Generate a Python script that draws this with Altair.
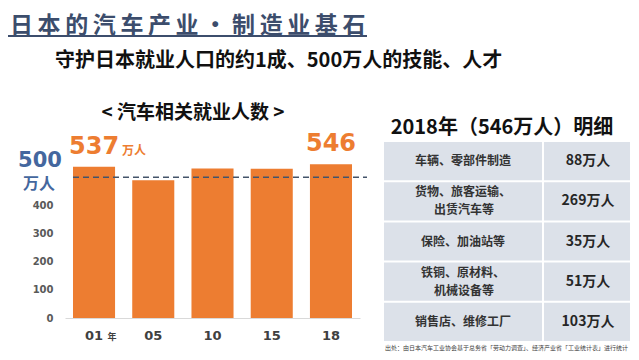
import altair as alt
import pandas as pd

# ---------------- data ----------------
years = ["01", "05", "10", "15", "18"]
employment = [537, 489, 531, 530, 546]  # 万人

table_categories = [
    "车辆、零部件制造",
    "货物、旅客运输、\n出赁汽车等",
    "保险、加油站等",
    "铁铜、原材料、\n机械设备等",
    "销售店、维修工厂",
]
table_values = [88, 269, 35, 51, 103]

main_title = "日本的汽车产业 · 制造业基石"
subtitle = "守护日本就业人口的约1成、500万人的技能、人才"
chart_title = "< 汽车相关就业人数 >"
table_title = "2018年（546万人）明细"
footnote = "出处：由日本汽车工业协会基于总务省「劳动力调查」、经济产业省「工业统计表」进行统计"
reference_level = 500

# ---------------- style ----------------
ORANGE = "#ED7D31"
BLUE = "#44679E"
TITLE_C = "#3C4D6C"
DASH_C = "#44546A"
CELL = "#DCE1E9"
CJK = "Noto Sans CJK SC"
NUM = "DejaVu Sans"

PLOT_X0, PLOT_Y0 = 65, 149  # page position of plot origin


def px(x):
    return x - PLOT_X0


def py(y):
    return y - PLOT_Y0


def spaced(s):
    # letter spacing: a thin space between neighbouring CJK characters
    out = ""
    for i, ch in enumerate(s):
        out += ch
        if i + 1 < len(s) and ch not in " ·" and s[i + 1] not in " ·":
            out += "\u2009"
    return out


df = pd.DataFrame({"year": years, "value": employment})
one = pd.DataFrame({"a": [0]})

x_enc = alt.X(
    "year:N",
    sort=years,
    scale=alt.Scale(paddingInner=0.29, paddingOuter=0.135),
    axis=alt.Axis(
        title=None, labelAngle=0, labelFont=NUM, labelFontSize=13,
        labelFontWeight="bold", labelColor="#404040", labelPadding=11,
        ticks=False, domainColor="#D9D9D9", domainWidth=1,
    ),
)
y_enc = alt.Y(
    "value:Q",
    scale=alt.Scale(domain=[0, 600], nice=False),
    axis=alt.Axis(
        title=None, values=[0, 100, 200, 300, 400], domain=False, ticks=False,
        grid=False, labelFont=NUM, labelFontSize=10, labelFontWeight="bold",
        labelColor="#595959", labelPadding=12,
    ),
)

base = alt.Chart(df)
bars = base.mark_bar(color=ORANGE).encode(x=x_enc, y=y_enc)

ref_rule = alt.Chart(one).mark_rule(
    color=DASH_C, strokeDash=[6, 4], strokeWidth=1.5
).encode(y=alt.datum(reference_level), x=alt.value(px(73)), x2=alt.value(px(367)))

big_labels = base.transform_filter(
    alt.FieldOneOfPredicate(field="year", oneOf=["01", "18"])
).mark_text(
    font=NUM, fontSize=24, fontWeight="bold", color=ORANGE, dy=-20, baseline="middle"
).encode(x=alt.X("year:N", sort=years), y="value:Q", text="value:Q")

unit_537 = base.transform_filter(alt.datum.year == "01").mark_text(
    font=CJK, fontSize=12, fontWeight="bold", color=ORANGE, dx=40, dy=-16,
    baseline="middle",
).encode(x=alt.X("year:N", sort=years), y="value:Q", text=alt.value("万人"))

ref_num = alt.Chart(one).mark_text(
    font=NUM, fontSize=21, fontWeight="bold", color=BLUE, dy=-16, baseline="middle"
).encode(x=alt.value(px(40)), y=alt.datum(reference_level), text=alt.value("500"))
ref_unit = alt.Chart(one).mark_text(
    font=CJK, fontSize=16, fontWeight="bold", color=BLUE, dy=7, baseline="middle"
).encode(x=alt.value(px(39)), y=alt.datum(reference_level), text=alt.value("万人"))

nen = base.transform_filter(alt.datum.year == "01").mark_text(
    font=CJK, fontSize=9, fontWeight="bold", color="#404040", dx=18, dy=19,
    baseline="middle",
).encode(x=alt.X("year:N", sort=years), y=alt.datum(0), text=alt.value("年"))

title_text = alt.Chart(one).mark_text(
    font=CJK, fontSize=23, fontWeight="bold", color=TITLE_C, align="left",
    baseline="middle",
).encode(x=alt.value(px(10)), y=alt.value(py(25.5)),
         text=alt.value(spaced(main_title)))
title_line = alt.Chart(one).mark_rule(color=TITLE_C, strokeWidth=2).encode(
    x=alt.value(px(5)), x2=alt.value(px(367)), y=alt.value(py(36))
)
sub_text = alt.Chart(one).mark_text(
    font=CJK, fontSize=20, fontWeight="bold", color="#111111", align="left",
    baseline="middle",
).encode(x=alt.value(px(55)), y=alt.value(py(61)), text=alt.value(subtitle))
chart_title_text = alt.Chart(one).mark_text(
    font=CJK, fontSize=19, fontWeight="bold", color="#111111", align="center",
    baseline="middle",
).encode(x=alt.value(px(193)), y=alt.value(py(113)), text=alt.value(chart_title))

bar_group = alt.layer(
    bars, ref_rule, big_labels, unit_537, ref_num, ref_unit, nen,
    title_text, title_line, sub_text, chart_title_text,
)

# ---------------- table ----------------
parts = [c.split("\n") for c in table_categories]
tdf = pd.DataFrame({
    "row": list(range(len(table_categories))),
    "line1": [p[0] for p in parts],
    "line2": [p[1] if len(p) > 1 else "" for p in parts],
    "lines": [len(p) for p in parts],
    "label": [f"{v}万人" for v in table_values],
})
y_tab = alt.Y(
    "row:O",
    scale=alt.Scale(domain=list(range(len(table_categories))),
                    range=[py(142), py(341)], paddingInner=0.05, paddingOuter=0),
    axis=None,
)
tbase = alt.Chart(tdf)
cell1 = tbase.mark_rect(color=CELL).encode(y=y_tab, x=alt.value(px(384)), x2=alt.value(px(542)))
cell2 = tbase.mark_rect(color=CELL).encode(y=y_tab, x=alt.value(px(544)), x2=alt.value(px(630)))
cat_style = dict(font=CJK, fontSize=12, fontWeight="bold", color="#333333",
                 align="center", baseline="middle")
cat_single = tbase.transform_filter(alt.datum.lines == 1).mark_text(**cat_style).encode(
    y=y_tab, x=alt.value(px(463)), text="line1:N")
cat_first = tbase.transform_filter(alt.datum.lines == 2).mark_text(dy=-9, **cat_style).encode(
    y=y_tab, x=alt.value(px(463)), text="line1:N")
cat_second = tbase.transform_filter(alt.datum.lines == 2).mark_text(dy=9, **cat_style).encode(
    y=y_tab, x=alt.value(px(464)), text="line2:N")
val_text = tbase.mark_text(
    font=CJK, fontSize=14, fontWeight="bold", color="#262626",
    align="center", baseline="middle",
).encode(y=y_tab, x=alt.value(px(588)), text="label:N")
tab_title = alt.Chart(one).mark_text(
    font=CJK, fontSize=20, fontWeight="bold", color="#111111", align="center",
    baseline="middle",
).encode(x=alt.value(px(502)), y=alt.value(py(128)), text=alt.value(table_title))
foot = alt.Chart(one).mark_text(
    font=CJK, fontSize=6, color="#404040", align="left", baseline="middle",
).encode(x=alt.value(px(385)), y=alt.value(py(348)), text=alt.value(footnote))

table_group = alt.layer(cell1, cell2, cat_single, cat_first, cat_second, val_text,
                        tab_title, foot)

chart = alt.layer(bar_group, table_group).resolve_scale(
    x="independent", y="independent"
).properties(
    width=295, height=169,
    autosize=alt.AutoSizeParams(type="none"),
    padding={"left": 57, "top": 141, "right": 271, "bottom": 34},
).configure_view(strokeWidth=0)

chart.save("out.html", embed_options={"renderer": "svg", "actions": False})
